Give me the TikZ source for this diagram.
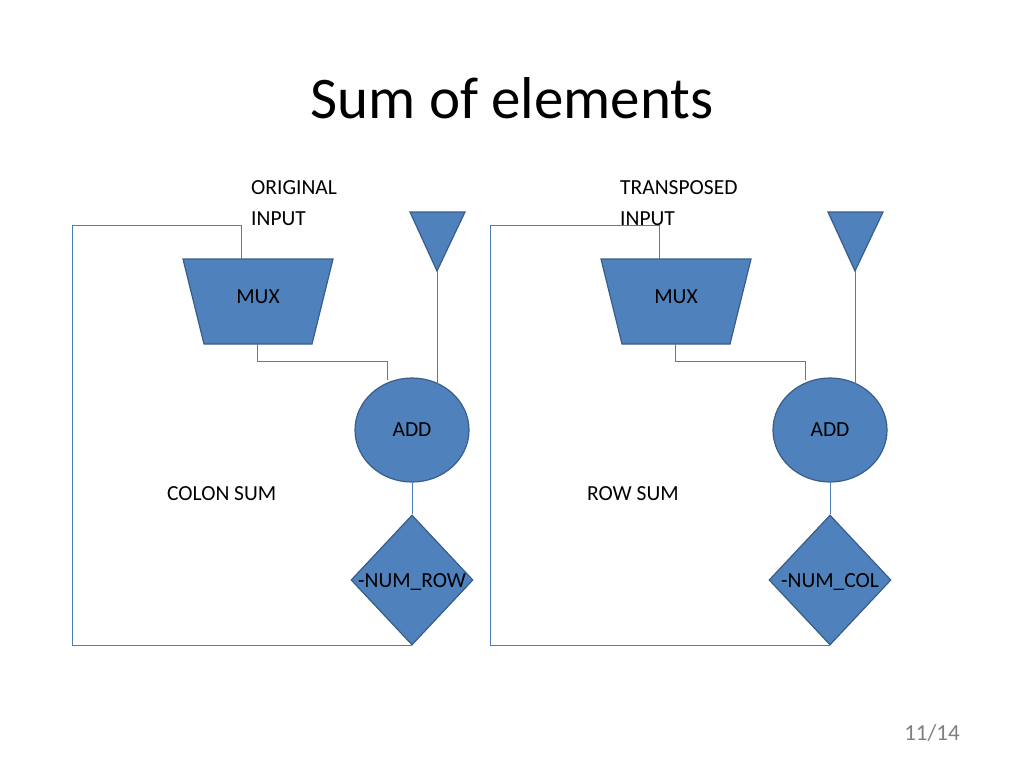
\documentclass[tikz,border=0pt]{standalone}
\usepackage{fontspec}
\setmainfont{Carlito}
\usetikzlibrary{shapes.geometric}
\definecolor{blockfill}{RGB}{79,129,189}
\definecolor{blockline}{RGB}{56,93,138}
\definecolor{wire}{RGB}{74,126,187}
\tikzset{
  block/.style={draw=blockline,fill=blockfill,line width=1.2pt},
  wire/.style={draw=wire,line width=0.6pt},
  lbl/.style={inner sep=0pt,font=\fontsize{21.5}{31}\selectfont},
}
\begin{document}
\begin{tikzpicture}[x=1pt,y=1pt,yscale=-1]
\useasboundingbox (0,0) rectangle (1024,768);

% Title
\node[inner sep=0pt,font=\fontsize{59}{66}\selectfont] (title) at (512,98) {Sum of elements};

\foreach \dx/\nm/\inA/\inB/\inx/\sumtxt/\sumx/\cnt in {0/l/ORIGINAL/INPUT/251/COLON SUM/167/-NUM\_ROW, 418/r/TRANSPOSED/INPUT/620/ROW SUM/587/-NUM\_COL}{
  % input text and section label
  \node[lbl,anchor=west] (in1\nm) at (\inx,188) {\inA};
  \node[lbl,anchor=west] (in2\nm) at (\inx,219) {\inB};
  \node[lbl,anchor=west] (sum\nm) at (\sumx,494) {\sumtxt};
  \begin{scope}[xshift=\dx]
  % constant triangle
  \draw[block] (410,212) -- (465,212) -- (437,271) -- cycle;
  \coordinate (tri\nm) at (437,271);
  % MUX
  \draw[block] (183,259) -- (333,259) -- (312,344) -- (204,344) -- cycle;
  \node[lbl] (mux\nm) at (258,297) {MUX};
  \coordinate (muxtop\nm) at (241,259);
  \coordinate (muxbot\nm) at (257,344);
  % ADD
  \node[block,lbl,shape=ellipse,minimum width=114pt,minimum height=104pt] (add\nm) at (412,430) {ADD};
  % compare
  \node[block,lbl,shape=diamond,minimum width=122pt,minimum height=130pt,aspect=0.94] (cmp\nm) at (412,580) {};
  \node[lbl] (cnt\nm) at (412,582) {\cnt};
  % wires
  \draw[wire] (muxtop\nm) |- (72,225) |- (cmp\nm.south);
  \draw[wire] (muxbot\nm) |- (387,361) -- (387,380);
  \draw[wire] (tri\nm) -- (437,385);
  \draw[wire] (add\nm.south) -- (cmp\nm.north);
  \end{scope}
}

\node[inner sep=0pt,text=gray,font=\fontsize{23}{28}\selectfont] (page) at (932,733) {11/14};
\end{tikzpicture}
\end{document}
